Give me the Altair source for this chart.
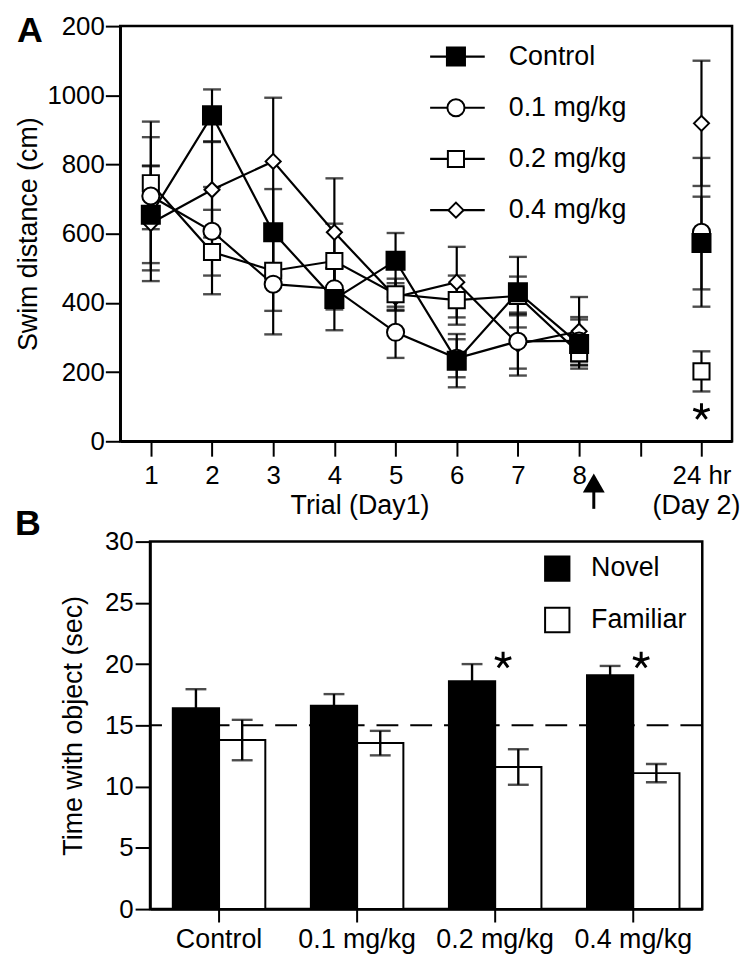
import altair as alt
import pandas as pd

# ---------------- Panel A: swim distance ----------------
trial_positions = [1, 2, 3, 4, 5, 6, 7, 8, 10]
trial_tick_values = [1, 2, 3, 4, 5, 6, 7, 8, 9, 10]
trial_tick_labels = ["1", "2", "3", "4", "5", "6", "7", "8", "", "24 hr"]
series_names = ["Control", "0.1 mg/kg", "0.2 mg/kg", "0.4 mg/kg"]

control_mean = [655, 942, 604, 411, 522, 233, 431, 281, 573]
control_sem = [140, 75, 125, 90, 80, 77, 102, 71, 134]
dose01_mean = [709, 607, 454, 441, 315, 240, 289, 290, 604]
dose01_sem = [215, 128, 145, 60, 74, 55, 79, 69, 215]
dose02_mean = [746, 547, 493, 521, 425, 408, 420, 255, 202]
dose02_sem = [133, 122, 116, 108, 45, 71, 56, 25, 58]
dose04_mean = [630, 727, 809, 604, 417, 460, 281, 318, 919]
dose04_sem = [167, 138, 184, 156, 40, 102, 91, 99, 181]

swim_y_ticks = [0, 200, 400, 600, 800, 1000, 1200]
swim_y_labels = ["0", "200", "400", "600", "800", "1000", "200"]

axis_notes_text = ["Trial (Day1)", "(Day 2)"]
axis_notes_x = [4.5, 10]
arrow_x = [8.24]
day2_sig_x = [10]
day2_sig_y = [85]

# ---------------- Panel B: object recognition ----------------
groups = ["Control", "0.1 mg/kg", "0.2 mg/kg", "0.4 mg/kg"]
object_kinds = ["Novel", "Familiar"]
novel_mean = [16.4, 16.6, 18.6, 19.1]
novel_sem = [1.55, 0.95, 1.4, 0.75]
familiar_mean = [13.8, 13.55, 11.6, 11.1]
familiar_sem = [1.65, 1.0, 1.45, 0.75]
chance_level = [15]
sig_groups = ["0.2 mg/kg", "0.4 mg/kg"]
sig_y = [20.3, 20.3]
time_y_ticks = [0, 5, 10, 15, 20, 25, 30]
legendB_y = [27.8, 23.6]

FONT = "Liberation Sans"
ASTER = "M0,0L0,-1M0,0L0.95,-0.31M0,0L-0.95,-0.31M0,0L0.59,0.81M0,0L-0.59,0.81"
ASTER_SHIFT = "M0.92,0L0.92,-1M0.92,0L1.87,-0.31M0.92,0L-0.03,-0.31M0.92,0L1.51,0.81M0.92,0L0.33,0.81"

# ---------- build panel A tables ----------
series_data = {
    "Control": (control_mean, control_sem),
    "0.1 mg/kg": (dose01_mean, dose01_sem),
    "0.2 mg/kg": (dose02_mean, dose02_sem),
    "0.4 mg/kg": (dose04_mean, dose04_sem),
}
draw_order = ["0.4 mg/kg", "0.2 mg/kg", "0.1 mg/kg", "Control"]
rows, caps = [], []
for name in draw_order:
    means, sems = series_data[name]
    for t, m, s in zip(trial_positions, means, sems):
        rows.append({"series": name, "trial": t, "mean": m, "lo": m - s, "hi": m + s})
        caps.append({"series": name, "trial": t, "cap": m - s})
        caps.append({"series": name, "trial": t, "cap": m + s})
dfA = pd.DataFrame(rows)
capsA = pd.DataFrame(caps)

leg_top, leg_step = 1112, 148
legA = pd.DataFrame({
    "series": series_names,
    "ly": [leg_top - i * leg_step for i in range(len(series_names))],
    "lx1": 5.565, "lx2": 6.458, "lm": 5.987, "lt": 6.85,
})
notesA = pd.DataFrame({"tx": axis_notes_x, "tt": axis_notes_text})
arrowA = pd.DataFrame({"ax": arrow_x})
sigA = pd.DataFrame({"sx": day2_sig_x, "sy": day2_sig_y})
one = pd.DataFrame({"k": [0]})

W1, H1 = 616, 418
xA_scale = alt.Scale(domain=[0.5, 10.5], nice=False, zero=False)
yA_scale = alt.Scale(domain=[0, 1200], nice=False, zero=True)
x_label_expr = "[" + ",".join("'%s'" % s for s in trial_tick_labels) + "][datum.value - 1]"
y_label_expr = "[" + ",".join("'%s'" % s for s in swim_y_labels) + "][round(datum.value / 200)]"
xA_axis = alt.Axis(values=trial_tick_values, labelExpr=x_label_expr, title=None,
                   labelPadding=7, tickSize=15)
yA_axis = alt.Axis(values=swim_y_ticks, labelExpr=y_label_expr, title="Swim distance (cm)",
                   labelPadding=1, titlePadding=4, tickSize=15)


def xa(field):
    return alt.X(field, type="quantitative", scale=xA_scale, axis=xA_axis)


def ya(field):
    return alt.Y(field, type="quantitative", scale=yA_scale, axis=yA_axis)


shape_enc = alt.Shape("series:N", scale=alt.Scale(domain=series_names,
                      range=["square", "circle", "square", "diamond"]), legend=None)
fill_enc = alt.Fill("series:N", scale=alt.Scale(domain=series_names,
                    range=["black", "white", "white", "white"]), legend=None)
size_enc = alt.Size("series:N", scale=alt.Scale(domain=series_names,
                    range=[330, 230, 190, 200]), legend=None)

errA = alt.Chart(dfA).mark_rule(color="black", strokeWidth=2.2).encode(
    x=xa("trial"), y=ya("lo"), y2="hi")
capA = alt.Chart(capsA).mark_tick(orient="horizontal", color="black", size=18, thickness=2.4).encode(
    x=xa("trial"), y=ya("cap"))
lineA = alt.Chart(dfA).transform_filter("datum.trial <= 8").mark_line(
    color="black", strokeWidth=2.2).encode(x=xa("trial"), y=ya("mean"), detail="series:N")
ptsA = alt.Chart(dfA).mark_point(filled=True, stroke="black", strokeWidth=2, opacity=1).encode(
    x=xa("trial"), y=ya("mean"), shape=shape_enc, fill=fill_enc, size=size_enc)

legLine = alt.Chart(legA).mark_rule(color="black", strokeWidth=2.2).encode(
    x=xa("lx1"), x2="lx2", y=ya("ly"))
legPts = alt.Chart(legA).mark_point(filled=True, stroke="black", strokeWidth=2, opacity=1).encode(
    x=xa("lm"), y=ya("ly"), shape=shape_enc, fill=fill_enc, size=size_enc)
legText = alt.Chart(legA).mark_text(align="left", baseline="middle", fontSize=27, color="black").encode(
    x=xa("lt"), y=ya("ly"), text="series:N")

notes = alt.Chart(notesA).mark_text(baseline="alphabetic", fontSize=27, color="black", dx=-5).encode(
    x=xa("tx"), y=alt.value(H1 + 73), text="tt:N")
arrowHead = alt.Chart(arrowA).mark_point(shape="triangle-up", filled=True, color="black",
                                          size=484, opacity=1).encode(x=xa("ax"), y=alt.value(H1 + 42))
arrowStem = alt.Chart(arrowA).mark_rule(color="black", strokeWidth=3).encode(
    x=xa("ax"), y=alt.value(H1 + 50), y2=alt.value(H1 + 68))
sigTop = alt.Chart(sigA).mark_point(shape=ASTER, filled=False, stroke="black", strokeWidth=3,
                                    size=300, opacity=1).encode(x=xa("sx"), y=ya("sy"))
letterA = alt.Chart(one).mark_text(align="left", baseline="alphabetic", fontSize=36,
                                   fontWeight="bold", color="black").encode(
    x=alt.value(-104), y=alt.value(16), text=alt.value("A"))

top = alt.layer(errA, capA, lineA, ptsA, legLine, legPts, legText, notes, arrowHead,
                arrowStem, sigTop, letterA).properties(width=W1, height=H1)

# ---------- build panel B tables ----------
rowsB, capsB = [], []
for g, nm, ns, fm, fs in zip(groups, novel_mean, novel_sem, familiar_mean, familiar_sem):
    for kind, m, s in (("Novel", nm, ns), ("Familiar", fm, fs)):
        rowsB.append({"group": g, "kind": kind, "val": m, "lo": m - s, "hi": m + s})
        capsB.append({"group": g, "kind": kind, "cap": m - s})
        capsB.append({"group": g, "kind": kind, "cap": m + s})
dfB = pd.DataFrame(rowsB)
capsBdf = pd.DataFrame(capsB)
sigB = pd.DataFrame({"group": sig_groups, "sy": sig_y})
chanceB = pd.DataFrame({"c": chance_level})
legB = pd.DataFrame({"kind": object_kinds, "ly": legendB_y})

W2, H2 = 556, 370
xB = alt.X("group:N", sort=groups,
           scale=alt.Scale(domain=groups, paddingInner=0.33, paddingOuter=0.165),
           axis=alt.Axis(title=None, labelAngle=0, tickSize=13, labelPadding=5, labelFontSize=27))
xoB = alt.XOffset("kind:N", sort=object_kinds,
                  scale=alt.Scale(domain=object_kinds, paddingInner=0, paddingOuter=0))
yB_scale = alt.Scale(domain=[0, 30], nice=False)
yB_axis = alt.Axis(values=time_y_ticks, title="Time with object (sec)", labelPadding=2,
                   titlePadding=17, tickSize=15)
fillB = alt.Fill("kind:N", scale=alt.Scale(domain=object_kinds, range=["black", "white"]),
                 legend=None)


def yb(field):
    return alt.Y(field, type="quantitative", scale=yB_scale, axis=yB_axis)


chance = alt.Chart(chanceB).mark_rule(color="black", strokeWidth=2, strokeDash=[22, 12]).encode(
    y=yb("c"))
bars = alt.Chart(dfB).mark_bar(stroke="black", strokeWidth=2, opacity=1).encode(
    x=xB, xOffset=xoB, y=yb("val"), fill=fillB)
errB = alt.Chart(dfB).mark_rule(color="black", strokeWidth=2.4).encode(
    x=xB, xOffset=xoB, y=yb("lo"), y2="hi")
capB = alt.Chart(capsBdf).mark_tick(orient="horizontal", color="black", size=21, thickness=2.4).encode(
    x=xB, xOffset=xoB, y=yb("cap"))
sigBm = alt.Chart(sigB).mark_point(shape=ASTER_SHIFT, filled=False, stroke="black", strokeWidth=3,
                                   size=300, opacity=1).encode(x=xB, y=yb("sy"))
legBsym = alt.Chart(legB).mark_point(shape="square", filled=True, stroke="black", strokeWidth=2,
                                     size=600, opacity=1).encode(
    x=alt.value(410), y=yb("ly"), fill=fillB)
legBtxt = alt.Chart(legB).mark_text(align="left", baseline="middle", fontSize=27, color="black").encode(
    x=alt.value(444), y=yb("ly"), text="kind:N")
letterB = alt.Chart(one).mark_text(align="left", baseline="alphabetic", fontSize=36,
                                   fontWeight="bold", color="black").encode(
    x=alt.value(-136), y=alt.value(-7), text=alt.value("B"))

bottom = alt.layer(chance, bars, errB, capB, sigBm, legBsym, legBtxt, letterB).properties(
    width=W2, height=H2)


def spacer():
    return alt.Chart(one).mark_point(opacity=0, size=0, strokeWidth=0).encode(
        x=alt.value(0), y=alt.value(0)).properties(width=1, height=1,
                                                   view={"stroke": "transparent"})


rowA = alt.hconcat(spacer(), top, spacing=0)
rowB = alt.hconcat(spacer(), bottom, spacing=0)

chart = alt.vconcat(rowA, rowB, spacing=-17).properties(
    padding={"left": 0, "top": 0, "right": 0, "bottom": 0}
).configure(font=FONT).configure_view(
    stroke="black", strokeWidth=2.5
).configure_axis(
    domainColor="black", domainWidth=2.5, tickColor="black", tickWidth=2,
    labelFontSize=26, labelColor="black", labelFont=FONT,
    titleFontSize=27, titleFontWeight="normal", titleColor="black", titleFont=FONT,
    grid=False
)

chart.save("out.html", embed_options={"renderer": "svg", "actions": False})
